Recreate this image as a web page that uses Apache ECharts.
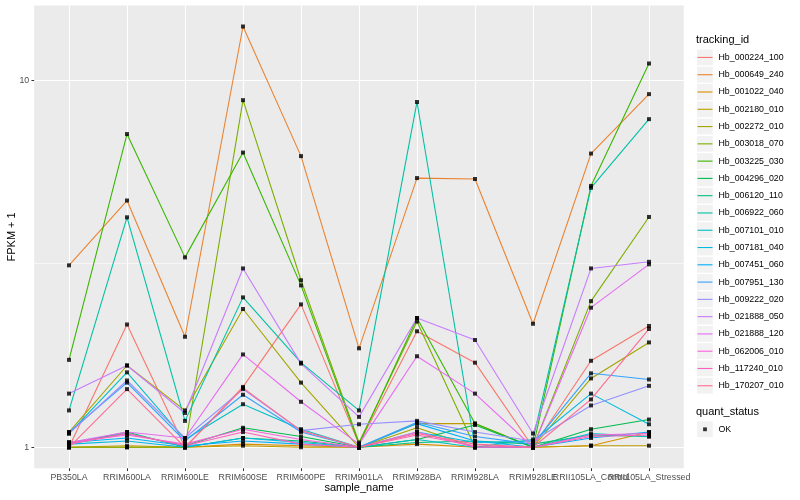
<!DOCTYPE html>
<html><head><meta charset="utf-8">
<script src="https://cdn.jsdelivr.net/npm/echarts@6/dist/echarts.min.js"></script>
<style>html,body{margin:0;padding:0;background:#fff}#c{width:800px;height:500px}</style>
</head><body><div id="c"></div>
<script>
const categories = ['PB350LA','RRIM600LA','RRIM600LE','RRIM600SE','RRIM600PE','RRIM901LA','RRIM928BA','RRIM928LA','RRIM928LE','RRII105LA_Control','RRII105LA_Stressed'];
const trackingIds = ['Hb_000224_100','Hb_000649_240','Hb_001022_040','Hb_002180_010','Hb_002272_010','Hb_003018_070','Hb_003225_030','Hb_004296_020','Hb_006120_110','Hb_006922_060','Hb_007101_010','Hb_007181_040','Hb_007451_060','Hb_007951_130','Hb_009222_020','Hb_021888_050','Hb_021888_120','Hb_062006_010','Hb_117240_010','Hb_170207_010'];
const colors = ['#F8766D','#EA8331','#D89000','#C09B00','#A3A500','#7CAE00','#39B600','#00BB4E','#00BF7D','#00C1A3','#00BFC4','#00BAE0','#00B0F6','#35A2FF','#9590FF','#C77CFF','#E76BF3','#FA62DB','#FF62BC','#FF6C91'];

const hb000224_100 = [1.00, 2.16, 1.00, 1.46, 2.45, 1.02, 2.07, 1.70, 1.00, 1.72, 2.14];
const hb000649_240 = [3.13, 4.70, 2.00, 14.0, 6.21, 1.86, 5.41, 5.38, 2.17, 6.31, 9.16];
const hb001022_040 = [1.00, 1.00, 1.00, 1.02, 1.01, 1.00, 1.02, 1.00, 1.00, 1.01, 1.10];
const hb002180_010 = [1.00, 1.01, 1.00, 1.01, 1.00, 1.00, 1.16, 1.16, 1.00, 1.01, 1.01];
const hb002272_010 = [1.10, 1.67, 1.26, 2.38, 1.50, 1.00, 1.13, 1.00, 1.00, 1.54, 1.93];
const hb003018_070 = [1.00, 1.00, 1.00, 8.82, 2.85, 1.03, 2.20, 1.00, 1.00, 2.50, 4.24];
const hb003225_030 = [1.73, 7.13, 3.29, 6.35, 2.76, 1.02, 2.25, 1.16, 1.00, 5.15, 11.1];
const hb004296_020 = [1.03, 1.09, 1.01, 1.13, 1.07, 1.00, 1.05, 1.15, 1.00, 1.12, 1.19];
const hb006120_110 = [1.02, 1.10, 1.00, 1.06, 1.04, 1.00, 1.03, 1.04, 1.02, 1.08, 1.07];
const hb006922_060 = [1.26, 4.23, 1.18, 2.56, 1.70, 1.26, 8.72, 1.00, 1.05, 5.09, 7.83];
const hb007101_010 = [1.09, 1.60, 1.05, 1.31, 1.12, 1.00, 1.05, 1.00, 1.00, 1.09, 1.07];
const hb007181_040 = [1.02, 1.04, 1.00, 1.06, 1.03, 1.00, 1.10, 1.03, 1.04, 1.40, 1.155];
const hb007451_060 = [1.03, 1.06, 1.01, 1.04, 1.02, 1.00, 1.16, 1.04, 1.00, 1.06, 1.10];
const hb007951_130 = [1.10, 1.50, 1.04, 1.39, 1.10, 1.00, 1.17, 1.07, 1.02, 1.59, 1.53];
const hb009222_020 = [1.09, 1.52, 1.06, 1.44, 1.11, 1.155, 1.18, 1.10, 1.04, 1.30, 1.47];
const hb021888_050 = [1.40, 1.67, 1.24, 3.07, 1.69, 1.21, 2.25, 1.96, 1.09, 3.07, 3.20];
const hb021888_120 = [1.03, 1.10, 1.06, 1.79, 1.33, 1.02, 1.77, 1.40, 1.00, 2.40, 3.15];
const hb062006_010 = [1.03, 1.08, 1.02, 1.12, 1.05, 1.00, 1.10, 1.00, 1.00, 1.08, 1.09];
const hb117240_010 = [1.02, 1.09, 1.01, 1.10, 1.02, 1.00, 1.08, 1.01, 1.00, 1.07, 1.08];
const hb170207_010 = [1.00, 1.44, 1.00, 1.45, 1.11, 1.00, 1.09, 1.02, 1.00, 1.35, 2.10];

const seriesValues = [hb000224_100, hb000649_240, hb001022_040, hb002180_010, hb002272_010, hb003018_070, hb003225_030, hb004296_020, hb006120_110, hb006922_060, hb007101_010, hb007181_040, hb007451_060, hb007951_130, hb009222_020, hb021888_050, hb021888_120, hb062006_010, hb117240_010, hb170207_010];

const yTicks = [1, 10];
const yMinorTicks = [3.1623];
const quantStatus = ['OK'];

const FONT = '"Liberation Sans", Arial, Helvetica, sans-serif';
const yMin = 0.8764, yMax = 15.97;
const xIdx = categories.map((_, i) => i);
// labels split over two axes so that the overlapping pair both stay visible (as in the reference)
const xIdxA = xIdx.filter(i => i % 2 === 0);
const xIdxB = xIdx.filter(i => i % 2 === 1);

const chart = echarts.init(document.getElementById('c'));

const lineSeries = trackingIds.map((id, k) => ({
  name: id, type: 'line', xAxisIndex: 0, yAxisIndex: 0,
  data: seriesValues[k].map((v, i) => [i, v]),
  symbol: 'none', showSymbol: false,
  lineStyle: { width: 1.1, color: colors[k] },
  itemStyle: { color: colors[k] },
  z: 2, silent: true, animation: false
}));
const okPoints = [];
seriesValues.forEach(arr => arr.forEach((v, i) => okPoints.push([i, v])));
const pointSeries = {
  name: quantStatus[0], type: 'scatter', xAxisIndex: 0, yAxisIndex: 0, data: okPoints,
  symbol: 'rect', symbolSize: 4, itemStyle: { color: '#000' },
  z: 3, silent: true, animation: false
};

const keyBoxes = trackingIds.map((_, i) => ({
  type: 'rect', silent: true, z: -1,
  shape: { x: 697.0, y: 49.5 + 17.28 * i, width: 15.8, height: 15.8 },
  style: { fill: '#F2F2F2' }
}));
keyBoxes.push({
  type: 'rect', silent: true, z: -1,
  shape: { x: 697.0, y: 421.4, width: 15.8, height: 15.8 },
  style: { fill: '#F2F2F2' }
});

const labelStyle = { fontSize: 8.8, color: '#4D4D4D', margin: 5, fontFamily: FONT, showMinLabel: true, showMaxLabel: true, hideOverlap: false };

chart.setOption({
  animation: false,
  backgroundColor: '#ffffff',
  textStyle: { fontFamily: FONT },
  title: [
    { text: 'tracking_id', left: 696, top: 34, padding: 0, textStyle: { fontSize: 11, fontWeight: 'normal', color: '#000', fontFamily: FONT } },
    { text: 'quant_status', left: 696, top: 406, padding: 0, textStyle: { fontSize: 11, fontWeight: 'normal', color: '#000', fontFamily: FONT } }
  ],
  grid: { left: 34.2, right: 116.2, top: 5.5, bottom: 31.7, show: true, backgroundColor: '#EBEBEB', borderWidth: 0, containLabel: false, outerBoundsMode: 'none' },
  legend: [
    {
      data: trackingIds, orient: 'vertical', left: 696.5, top: 48.8, padding: 0, itemGap: 0,
      itemWidth: 17, itemHeight: 17.28, selectedMode: false,
      icon: 'path://M0,0 M1,8.1 L16,8.1 L16,9.2 L1,9.2 Z M17,17.28',
      itemStyle: { borderWidth: 0 },
      textStyle: { fontSize: 8.8, color: '#000', lineHeight: 17.28, fontFamily: FONT }
    },
    {
      data: quantStatus, orient: 'vertical', left: 696.5, top: 420.7, padding: 0, itemGap: 0,
      itemWidth: 17, itemHeight: 17.28, selectedMode: false,
      icon: 'path://M0,0 M6.6,6.7 L10.4,6.7 L10.4,10.5 L6.6,10.5 Z M17,17.28',
      itemStyle: { borderWidth: 0 },
      textStyle: { fontSize: 8.8, color: '#000', lineHeight: 17.28, fontFamily: FONT }
    }
  ],
  xAxis: [
    {
      type: 'value', min: -0.6, max: 10.6, position: 'bottom',
      name: 'sample_name', nameLocation: 'middle', nameGap: 14, nameMoveOverlap: false,
      nameTextStyle: { fontSize: 11, color: '#000', fontFamily: FONT },
      axisLine: { show: false, onZero: false },
      axisTick: { show: true, length: 2.75, customValues: xIdx, lineStyle: { color: '#333333', width: 1 } },
      axisLabel: Object.assign({ customValues: xIdxA, formatter: v => categories[v] || '' }, labelStyle),
      splitLine: { show: true, lineStyle: { color: '#ffffff', width: 1.1 } }
    },
    {
      type: 'value', min: -0.6, max: 10.6, position: 'bottom', offset: 0,
      axisLine: { show: false, onZero: false },
      axisTick: { show: false, customValues: xIdxB },
      axisLabel: Object.assign({ customValues: xIdxB, formatter: v => categories[v] || '' }, labelStyle),
      splitLine: { show: false }
    }
  ],
  yAxis: [
    {
      type: 'log', logBase: 10, min: yMin, max: yMax, position: 'left',
      name: 'FPKM + 1', nameLocation: 'middle', nameGap: 17, nameMoveOverlap: false,
      nameTextStyle: { fontSize: 11, color: '#000', fontFamily: FONT },
      axisLine: { show: false, onZero: false },
      axisTick: { show: true, length: 2.75, customValues: yTicks, lineStyle: { color: '#333333', width: 1 } },
      axisLabel: { customValues: yTicks, formatter: v => String(Math.round(v)), fontSize: 8.8, color: '#4D4D4D', margin: 5, fontFamily: FONT, showMinLabel: true, showMaxLabel: true },
      splitLine: { show: true, lineStyle: { color: '#ffffff', width: 1.1 } }
    },
    {
      type: 'log', logBase: 10, min: yMin, max: yMax, position: 'left', offset: 0,
      axisLine: { show: false, onZero: false },
      axisTick: { show: false, customValues: yMinorTicks },
      axisLabel: { show: false, customValues: yMinorTicks },
      splitLine: { show: true, lineStyle: { color: '#ffffff', width: 0.55 } }
    }
  ],
  graphic: keyBoxes,
  series: [...lineSeries, pointSeries]
});
</script></body></html>
